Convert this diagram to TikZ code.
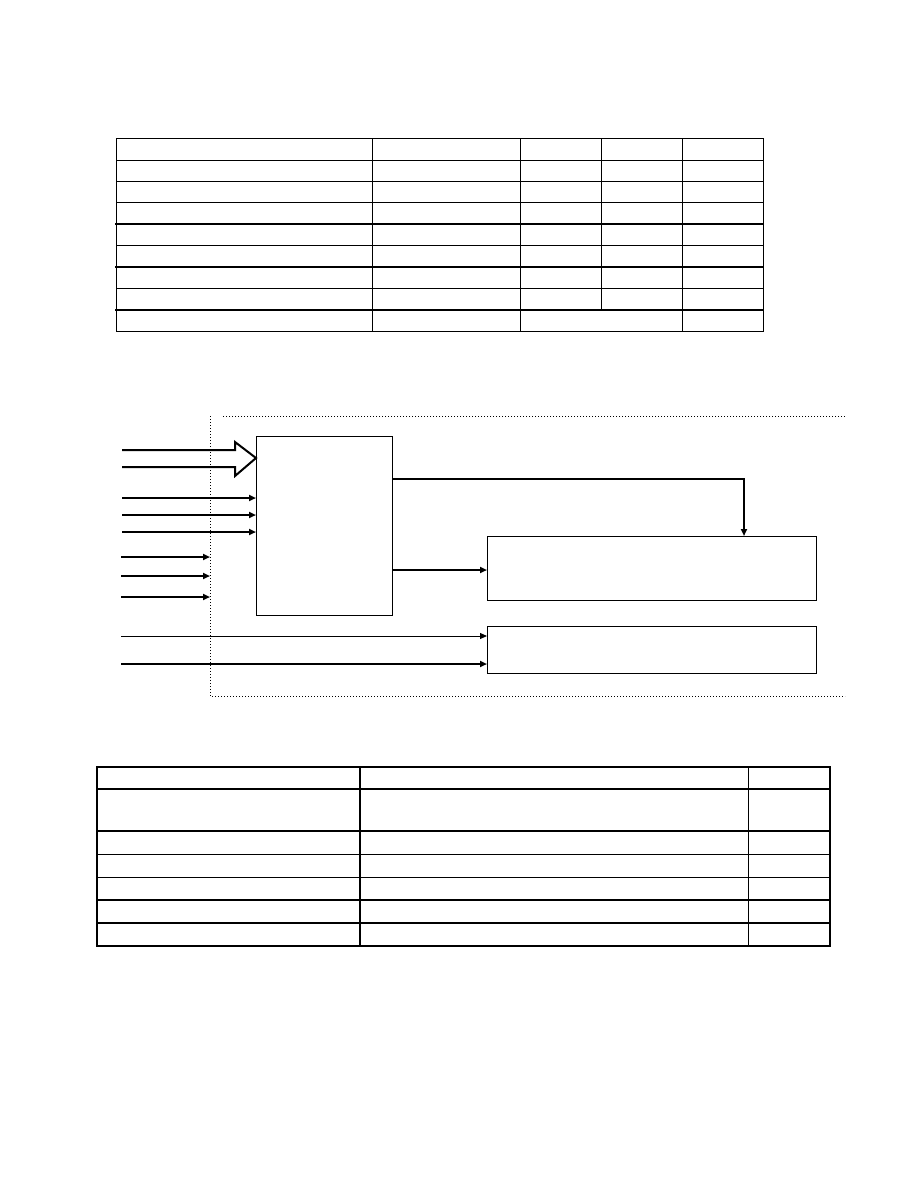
\documentclass[tikz,border=0pt]{standalone}
\usetikzlibrary{arrows.meta}
\begin{document}
\begin{tikzpicture}[x=1pt,y=-1pt,
    duenn/.style={line width=1pt,line cap=rect},
    dick/.style={line width=2pt,line cap=rect},
    kasten/.style={draw,line width=1pt,anchor=north west,inner sep=0pt},
    pfeil/.style={line width=2pt,-{Triangle[length=7pt,width=6pt]}},
    rahmen/.style={line width=1pt,dash pattern=on 1pt off 2pt}]
        \useasboundingbox (0,0) rectangle (918,1188);
        
        % Tabelle oben
        \foreach \y in {139,160,181,202,245,288,331}
            \draw[duenn] (116,\y) -- (763,\y);
        \foreach \y in {224,267,310}
            \draw[dick] (116,\y) -- (763,\y);
        \foreach \x in {116,372,520,682,763}
            \draw[duenn] (\x,139) -- (\x,331);
        \draw[duenn] (601,139) -- (601,310);
        
        % Rahmen
        \draw[rahmen] (845,416) -- (222,416);
        \draw[rahmen] (210,416) -- (210,696) -- (845,696);
        \coordinate (R) at (210,560);
        
        % Bloecke
        \node[kasten,minimum width=136pt,minimum height=179pt] (A) at (256,436) {};
        \node[kasten,minimum width=329pt,minimum height=64pt] (B) at (487,536) {};
        \node[kasten,minimum width=329pt,minimum height=47pt] (C) at (487,626) {};
        
        % Breiter Pfeil
        \draw[line width=2pt,line join=miter] (122,450) -- (235,450) -- (235,442)
            -- (A.west |- 0,458) -- (235,476) -- (235,467) -- (122,467);
        
        % Eingaenge
        \foreach \y in {498,515,532}
            \draw[pfeil] (122,\y) -- (A.west |- 0,\y);
        \foreach \y in {557,576,597}
            \draw[pfeil] (121,\y) -- (R |- 0,\y);
        \draw[line width=1pt,-{Triangle[length=7pt,width=6pt]}] (121,636) -- (C.west |- 0,636);
        \draw[pfeil] (121,664) -- (C.west |- 0,664);
        
        % Ausgaenge
        \draw[pfeil] (A.east |- 0,479) -| (B.north -| 744,0);
        \draw[pfeil] (A.east |- 0,570) -- (B.west |- 0,570);
        
        % Tabelle unten
        \foreach \y in {767,789,831,900,923,946}
            \draw[dick] (97,\y) -- (830,\y);
        \foreach \y in {854,877}
            \draw[duenn] (97,\y) -- (830,\y);
        \foreach \x in {97,360,830}
            \draw[dick] (\x,767) -- (\x,946);
        \draw[duenn] (748,767) -- (748,946);
    \end{tikzpicture}
\end{document}
